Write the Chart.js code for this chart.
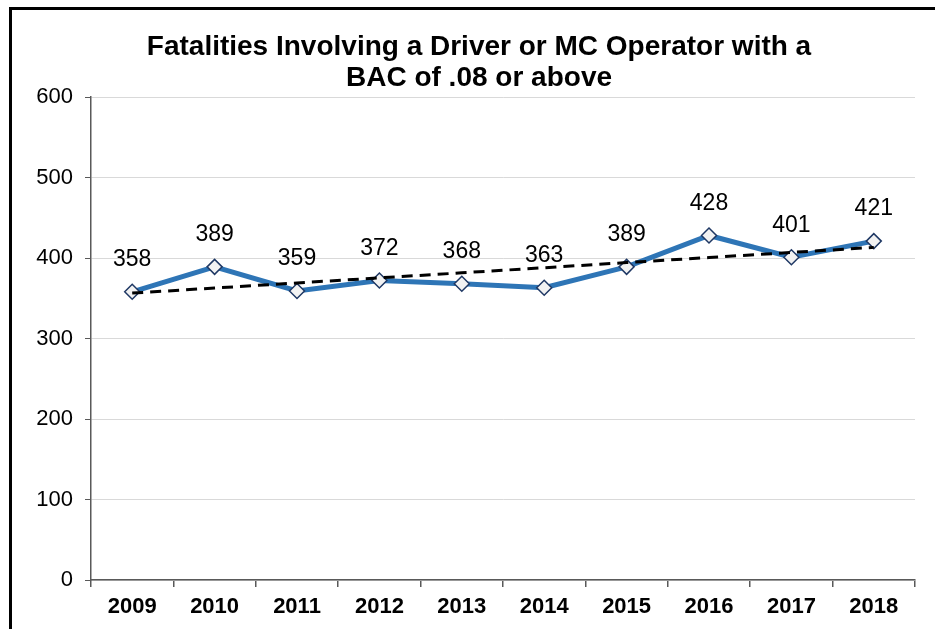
<!DOCTYPE html>
<html>
<head>
<meta charset="utf-8">
<script src="https://cdn.jsdelivr.net/npm/chart.js@4/dist/chart.umd.min.js"></script>
<style>
html,body{margin:0;padding:0;background:#fff;}
#wrap{width:935px;height:629px;position:relative;}
</style>
</head>
<body>
<div id="wrap"><canvas id="c" width="935" height="629"></canvas></div>
<script>
const years = ['2009','2010','2011','2012','2013','2014','2015','2016','2017','2018'];
const fatalities = [358, 389, 359, 372, 368, 363, 389, 428, 401, 421];
const trend = [356.4, 362.7, 369.0, 375.3, 381.6, 387.9, 394.3, 400.6, 406.9, 413.2];
const titleLines = ['Fatalities Involving a Driver or MC Operator with a', 'BAC of .08 or above'];
const yTicks = [0, 100, 200, 300, 400, 500, 600];

const FONT = "'Liberation Sans', Arial, sans-serif";

const framePlugin = {
  id: 'frame',
  beforeDraw(chart) {
    const ctx = chart.ctx;
    ctx.save();
    ctx.fillStyle = '#fff';
    ctx.fillRect(0, 0, chart.width, chart.height);
    ctx.strokeStyle = '#000';
    ctx.lineWidth = 3;
    ctx.beginPath();
    ctx.moveTo(10.5, chart.height);
    ctx.lineTo(10.5, 8.5);
    ctx.lineTo(chart.width, 8.5);
    ctx.stroke();
    ctx.restore();
  },
  afterDraw(chart) {
    const ctx = chart.ctx;
    ctx.save();
    ctx.fillStyle = '#000';
    ctx.font = 'bold 28px ' + FONT;
    ctx.textAlign = 'center';
    ctx.textBaseline = 'alphabetic';
    ctx.fillText(titleLines[0], 479, 55);
    ctx.fillText(titleLines[1], 479, 86);
    ctx.restore();
  }
};

const labelPlugin = {
  id: 'valueLabels',
  afterDatasetsDraw(chart) {
    const ctx = chart.ctx;
    const meta = chart.getDatasetMeta(1);
    ctx.save();
    ctx.fillStyle = '#000';
    ctx.font = '23px ' + FONT;
    ctx.textAlign = 'center';
    ctx.textBaseline = 'middle';
    meta.data.forEach((pt, i) => {
      ctx.fillText(String(fatalities[i]), pt.x, pt.y - 32);
    });
    ctx.restore();
  }
};

new Chart(document.getElementById('c'), {
  type: 'line',
  data: {
    labels: years,
    datasets: [
      {
        label: 'Linear trend',
        data: trend,
        borderColor: '#000',
        borderWidth: 3,
        borderDash: [11, 7],
        pointRadius: 0,
        fill: false,
        tension: 0,
        order: 0
      },
      {
        label: 'Fatalities',
        data: fatalities,
        borderColor: '#2E75B6',
        borderWidth: 5,
        pointStyle: 'rectRot',
        pointRadius: 7.5,
        pointBackgroundColor: '#F2F2F2',
        pointBorderColor: '#1F3864',
        pointBorderWidth: 1.5,
        fill: false,
        tension: 0,
        order: 1
      }
    ]
  },
  options: {
    responsive: false,
    animation: false,
    events: [],
    layout: { padding: { top: 97, left: 10, right: 20, bottom: 0 } },
    plugins: {
      legend: { display: false },
      tooltip: { enabled: false },
      title: { display: false }
    },
    scales: {
      x: {
        offset: true,
        grid: {
          offset: true,
          drawOnChartArea: false,
          drawTicks: true,
          tickLength: 7,
          tickColor: '#595959',
          lineWidth: 1.5
        },
        border: { color: '#595959', width: 1.5 },
        ticks: {
          color: '#000',
          font: { family: FONT, size: 22, weight: 'bold' },
          padding: 7,
          maxRotation: 0
        },
        afterFit(scale) { scale.height = 49; }
      },
      y: {
        min: 0,
        max: 600,
        afterBuildTicks(scale) { scale.ticks = yTicks.map(v => ({ value: v })); },
        grid: {
          color: '#D9D9D9',
          lineWidth: 1,
          drawTicks: true,
          tickLength: 6,
          tickColor: '#595959'
        },
        border: { color: '#595959', width: 1.5 },
        ticks: {
          color: '#000',
          font: { family: FONT, size: 22 },
          padding: 12
        },
        afterFit(scale) { scale.width = 81; }
      }
    }
  },
  plugins: [framePlugin, labelPlugin]
});
</script>
</body>
</html>
